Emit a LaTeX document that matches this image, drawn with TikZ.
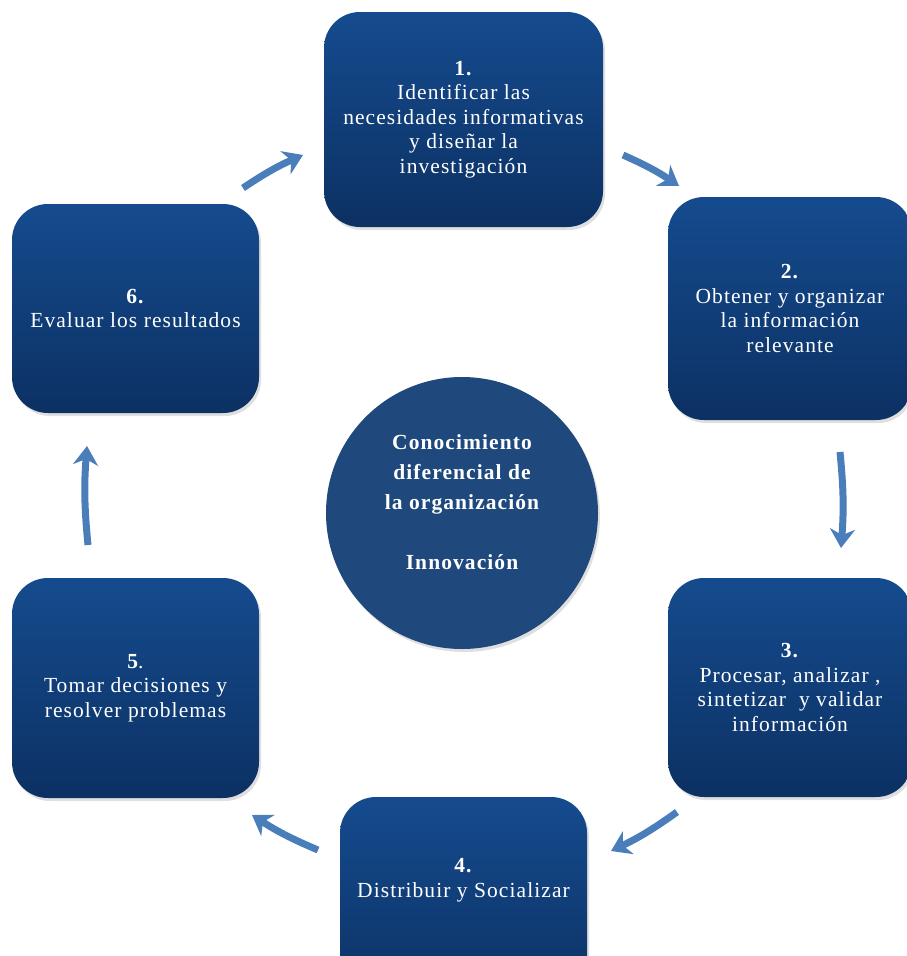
\documentclass[tikz,border=0pt]{standalone}
\usepackage{fontspec}
\setmainfont{Liberation Serif}[LetterSpace=5]
\usetikzlibrary{arrows.meta,shadows}

\definecolor{boxtop}{HTML}{154B8E}
\definecolor{boxbot}{HTML}{0C3163}
\definecolor{hubfill}{HTML}{1F497D}
\definecolor{flow}{HTML}{4A7EBB}

\newcommand{\stagefont}{\fontsize{21.5}{24.5}\selectfont}
\newcommand{\hubfont}{\fontsize{21.5}{30}\selectfont\bfseries}

\begin{document}
\begin{tikzpicture}[x=1pt,y=-1pt,
  stage/.style={rounded corners=36pt, top color=boxtop, bottom color=boxbot,
    draw=none, text=white, align=center, font=\stagefont, inner sep=0pt,
    drop shadow={opacity=0.25, shadow xshift=2pt, shadow yshift=-3pt}},
  stagetext/.style={text=white, align=center, font=\stagefont},
  hub/.style={circle, fill=hubfill, inner sep=0pt, minimum size=272pt,
    drop shadow={opacity=0.25, shadow xshift=2pt, shadow yshift=-3pt}},
  hubtext/.style={text=white, align=center, font=\hubfont},
  flowarrow/.style={draw=flow, line width=7pt,
    -{Stealth[length=19pt, width=25pt, inset=6pt]}}
]
\useasboundingbox (0,0) rectangle (907,956);
\begin{scope}
\clip (0,0) rectangle (907,956);

% process stages
\node[stage, minimum width=279pt, minimum height=215pt] (s1) at (463.5,119.5)
  {\textbf{1.}\\Identificar las\\necesidades informativas\\y diseñar la\\investigación};
\node[stage, minimum width=244pt, minimum height=223pt] (s2) at (790,308.5)
  {\textbf{2.}\\Obtener y organizar\\la información\\relevante};
\node[stage, minimum width=244pt, minimum height=219pt] (s3) at (790,687.5)
  {\textbf{3.}\\Procesar, analizar ,\\sintetizar\ \ y validar\\información};
\node[stage, minimum width=247pt, minimum height=210pt] (s4) at (463.5,902) {};
\node[stagetext] (s4text) at (463.5,880)
  {\textbf{4.}\\Distribuir y Socializar};
\node[stage, minimum width=247pt, minimum height=220pt] (s5) at (135.5,688)
  {\textbf{5}.\\Tomar decisiones y\\resolver problemas};
\node[stage, minimum width=247pt, minimum height=209pt] (s6) at (135.5,308.5)
  {\textbf{6.}\\Evaluar los resultados};

% central hub
\node[hub] (core) at (462,513) {};
\node[hubtext] (coretext) at (462,502)
  {Conocimiento\\diferencial de\\la organización\\[30pt]Innovación};

% arrow end points
\coordinate (a1s) at (243,188); \coordinate (a1e) at (303,155);
\coordinate (a2s) at (623,155); \coordinate (a2e) at (679,186);
\coordinate (a3s) at (840,452); \coordinate (a3e) at (841,548);
\coordinate (a4s) at (677,812); \coordinate (a4e) at (611,851);
\coordinate (a5s) at (318,850); \coordinate (a5e) at (252,815);
\coordinate (a6s) at (88,545);  \coordinate (a6e) at (87,446);

\draw[flowarrow] (a1s) to[bend left=5] (a1e);
\draw[flowarrow] (a2s) to[bend left=5] (a2e);
\draw[flowarrow] (a3s) to[bend left=5] (a3e);
\draw[flowarrow] (a4s) to[bend left=5] (a4e);
\draw[flowarrow] (a5s) to[bend left=5] (a5e);
\draw[flowarrow] (a6s) to[bend left=5] (a6e);
\end{scope}
\end{tikzpicture}
\end{document}
